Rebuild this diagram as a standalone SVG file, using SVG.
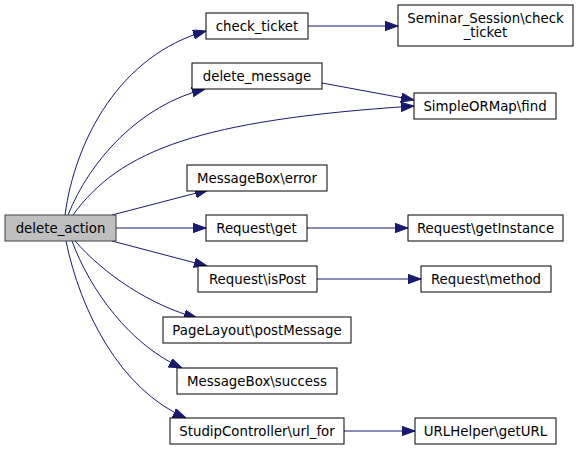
<svg xmlns="http://www.w3.org/2000/svg" width="579" height="450" viewBox="0 0 579 450">
<style>
.n rect{fill:#ffffff;stroke:#000000;stroke-width:1}
#n_delete_action rect{fill:#bfbfbf;stroke:#404040}
.n text{font-family:"DejaVu Sans",sans-serif;font-size:13.33px;fill:#000;text-anchor:middle}
.e path{fill:none;stroke:#191970;stroke-width:1;marker-end:url(#arr)}
</style>
<defs>
<marker id="arr" markerUnits="userSpaceOnUse" markerWidth="13" markerHeight="10" refX="13" refY="4.67" orient="auto">
<path d="M0,0 L13,4.67 L0,9.33 z" fill="#191970" stroke="#191970"/>
</marker>
</defs>
<rect width="579" height="450" fill="#ffffff"/>
<g id="edges" class="e">
<path d="M65,215 C75,140 120,55 206,31"/>
<path d="M68,215 C90,160 140,105 205,89"/>
<path d="M73,215 C120,150 200,120 414,106"/>
<path d="M322,83 L414,100"/>
<path d="M308,26 L398,26"/>
<path d="M112,215 L208,190"/>
<path d="M116,228 L206,228"/>
<path d="M307,228 L408,228"/>
<path d="M112,241 L207,266"/>
<path d="M317,279 L421,279"/>
<path d="M75,241 C105,275 150,305 197,318"/>
<path d="M72,241 C90,290 130,345 182,368"/>
<path d="M66,241 C80,310 120,390 186,418"/>
<path d="M344,431 L415,431"/>
</g>
<g id="n_delete_action" class="n"><rect x="5" y="215" width="111" height="26"/><text x="60.5" y="232.5">delete_action</text></g>
<g id="n_check_ticket" class="n"><rect x="206" y="13" width="102" height="26"/><text x="257" y="30.5">check_ticket</text></g>
<g id="n_delete_message" class="n"><rect x="192" y="63" width="130" height="26"/><text x="257" y="80.5">delete_message</text></g>
<g id="n_seminar_check_ticket" class="n"><rect x="398" y="5" width="175" height="41"/><text x="485.5" y="22.5">Seminar_Session\check</text><text x="485.5" y="37">_ticket</text></g>
<g id="n_simpleormap_find" class="n"><rect x="414" y="93" width="142" height="26"/><text x="485" y="110.5">SimpleORMap\find</text></g>
<g id="n_messagebox_error" class="n"><rect x="187" y="165" width="140" height="26"/><text x="257" y="182.5">MessageBox\error</text></g>
<g id="n_request_get" class="n"><rect x="206" y="215" width="101" height="26"/><text x="256.5" y="232.5">Request\get</text></g>
<g id="n_request_getinstance" class="n"><rect x="408" y="215" width="155" height="26"/><text x="485.5" y="232.5">Request\getInstance</text></g>
<g id="n_request_ispost" class="n"><rect x="198" y="266" width="119" height="26"/><text x="257.5" y="283.5">Request\isPost</text></g>
<g id="n_request_method" class="n"><rect x="421" y="266" width="130" height="26"/><text x="486" y="283.5">Request\method</text></g>
<g id="n_pagelayout_postmessage" class="n"><rect x="163" y="317" width="188" height="26"/><text x="257" y="334.5">PageLayout\postMessage</text></g>
<g id="n_messagebox_success" class="n"><rect x="177" y="368" width="160" height="26"/><text x="257" y="385.5">MessageBox\success</text></g>
<g id="n_studipcontroller_url_for" class="n"><rect x="170" y="418" width="174" height="26"/><text x="257" y="435.5">StudipController\url_for</text></g>
<g id="n_urlhelper_geturl" class="n"><rect x="415" y="418" width="141" height="26"/><text x="485.5" y="435.5">URLHelper\getURL</text></g>
</svg>
